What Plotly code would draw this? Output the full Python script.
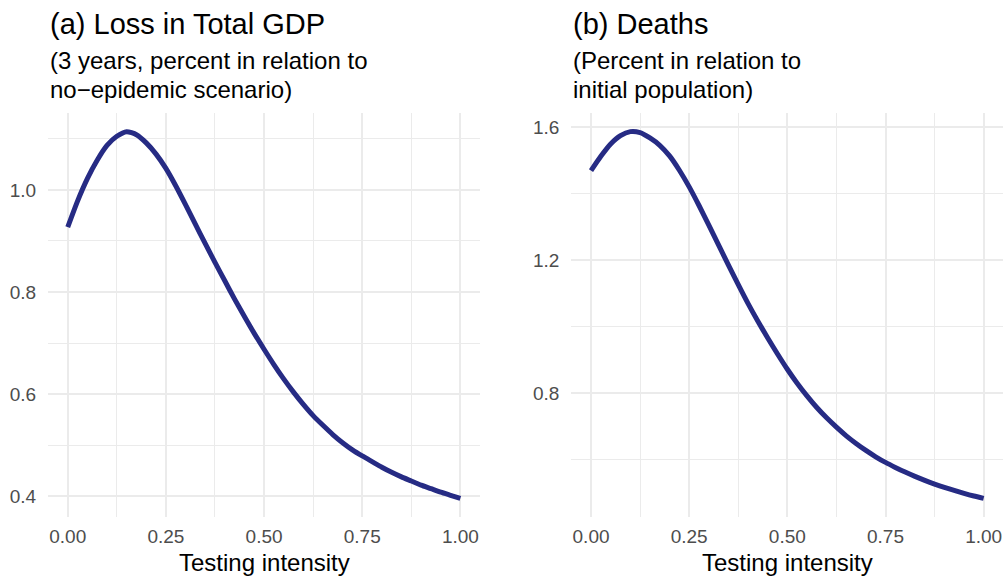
import plotly.graph_objects as go

# Testing intensity grid (shared by both outcomes)
intensity = [0.000, 0.025, 0.050, 0.075, 0.100, 0.125, 0.150, 0.175, 0.200, 0.225,
             0.250, 0.275, 0.300, 0.325, 0.350, 0.375, 0.400, 0.425, 0.450, 0.475,
             0.500, 0.525, 0.550, 0.575, 0.600, 0.625, 0.650, 0.675, 0.700, 0.725,
             0.750, 0.775, 0.800, 0.825, 0.850, 0.875, 0.900, 0.925, 0.950, 0.975, 1.000]

# (a) Loss in total GDP, 3 years, % of no-epidemic scenario
gdp_loss = [0.927, 0.978, 1.022, 1.058, 1.087, 1.105, 1.114, 1.108, 1.092, 1.070,
            1.042, 1.008, 0.971, 0.933, 0.895, 0.858, 0.822, 0.786, 0.752, 0.719,
            0.688, 0.658, 0.630, 0.604, 0.580, 0.558, 0.539, 0.521, 0.505, 0.491,
            0.479, 0.468, 0.457, 0.447, 0.438, 0.430, 0.422, 0.415, 0.408, 0.402, 0.396]

# (b) Deaths, % of initial population
deaths = [1.469, 1.512, 1.549, 1.574, 1.586, 1.583, 1.567, 1.545, 1.513, 1.470,
          1.420, 1.364, 1.305, 1.245, 1.185, 1.126, 1.069, 1.016, 0.966, 0.918,
          0.872, 0.830, 0.792, 0.757, 0.726, 0.698, 0.672, 0.649, 0.628, 0.609,
          0.592, 0.577, 0.563, 0.550, 0.538, 0.527, 0.517, 0.508, 0.499, 0.491, 0.484]

x_ticks = [0.0, 0.25, 0.5, 0.75, 1.0]
x_minor = [0.125, 0.375, 0.625, 0.875]
gdp_ticks = [0.4, 0.6, 0.8, 1.0]
gdp_minor = [0.5, 0.7, 0.9, 1.1]
death_ticks = [0.8, 1.2, 1.6]
death_minor = [0.6, 1.0, 1.4]

W, H = 1008, 578
FONT = "Liberation Sans, Arial, Helvetica, sans-serif"
LINE_COLOR = "#262B84"
GRID = "#EBEBEB"
TICK_COLOR = "#4D4D4D"


def expand(vals, frac=0.05):
    lo, hi = min(vals), max(vals)
    pad = (hi - lo) * frac
    return [lo - pad, hi + pad]


fig = go.Figure()
for yvals, xa, ya in [(gdp_loss, "x", "y"), (deaths, "x2", "y2")]:
    fig.add_trace(go.Scatter(x=intensity, y=yvals, mode="lines",
                             line=dict(color=LINE_COLOR, width=5, shape="spline", smoothing=0.6),
                             xaxis=xa, yaxis=ya, showlegend=False, hoverinfo="skip"))

y_dom = [61.3 / H, 464.7 / H]
left_dom = [48.1 / W, 480.0 / W]
right_dom = [571.4 / W, 1003.3 / W]


def xaxis_style(domain, anchor):
    return dict(domain=domain, anchor=anchor, range=expand(intensity),
                tickvals=x_ticks, ticktext=[f"{v:.2f}" for v in x_ticks],
                showgrid=True, gridcolor=GRID, gridwidth=2,
                minor=dict(tickvals=x_minor, showgrid=True, gridcolor=GRID, gridwidth=1.2),
                zeroline=False, showline=False, ticks="",
                ticklabelstandoff=6,
                tickfont=dict(family=FONT, size=19, color=TICK_COLOR))


def yaxis_style(domain, anchor, vals, ticks, minor):
    return dict(domain=domain, anchor=anchor, range=expand(vals),
                tickvals=ticks, ticktext=[f"{v:.1f}" for v in ticks],
                showgrid=True, gridcolor=GRID, gridwidth=2,
                minor=dict(tickvals=minor, showgrid=True, gridcolor=GRID, gridwidth=1.2),
                zeroline=False, showline=False, ticks="",
                ticklabelstandoff=11,
                tickfont=dict(family=FONT, size=19, color=TICK_COLOR))


fig.update_layout(
    width=W, height=H,
    margin=dict(l=0, r=0, t=0, b=0),
    paper_bgcolor="white", plot_bgcolor="white",
    xaxis=xaxis_style(left_dom, "y"),
    yaxis=yaxis_style(y_dom, "x", gdp_loss, gdp_ticks, gdp_minor),
    xaxis2=xaxis_style(right_dom, "y2"),
    yaxis2=yaxis_style(y_dom, "x2", deaths, death_ticks, death_minor),
)


def text(x, y_px, s, size, xanchor="left", xref="paper"):
    fig.add_annotation(x=x, y=1 - y_px / H, xref=xref, yref="paper",
                       text=s, showarrow=False, xanchor=xanchor, yanchor="middle",
                       font=dict(family=FONT, size=size, color="black"))


panels = [
    (left_dom[0], "x domain", "(a) Loss in Total GDP",
     ["(3 years, percent in relation to", "no\u2212epidemic scenario)"]),
    (right_dom[0], "x2 domain", "(b) Deaths",
     ["(Percent in relation to", "initial population)"]),
]
for x0, dref, title, sub in panels:
    text(x0, 23.5, title, 29)
    text(x0, 60.5, sub[0], 24)
    text(x0, 89.0, sub[1], 24)
    text(0.5, 562.0, "Testing intensity", 24, xanchor="center", xref=dref)

fig.write_html("out.html")
